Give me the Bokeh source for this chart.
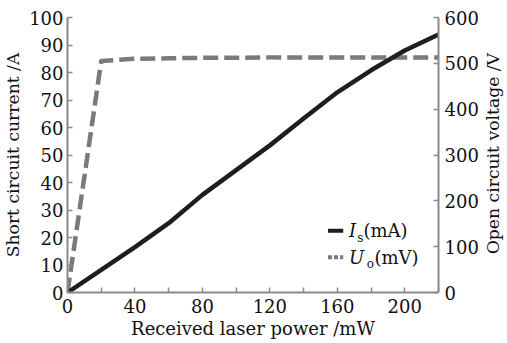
from bokeh.plotting import figure
from bokeh.models import Range1d, LinearAxis, FixedTicker, Label
from bokeh.embed import file_html
from bokeh.resources import INLINE
import math

# ---- data ----
power_mw = [0, 20, 40, 60, 80, 100, 120, 140, 160, 180, 200, 220]
is_ma = [0, 8.2, 16.5, 25.2, 35.5, 44.5, 53.5, 63.3, 72.8, 80.8, 88.0, 93.8]
uo_power = [0, 20, 40, 60, 80, 100, 120, 140, 160, 180, 200, 220]
uo_mv = [0, 505, 510, 511, 512, 512, 513, 513, 513, 513, 513, 513]

x_major = [0, 40, 80, 120, 160, 200]
x_minor = [20, 60, 100, 140, 180, 220]
y_ticks = [0, 10, 20, 30, 40, 50, 60, 70, 80, 90, 100]
y2_ticks = [0, 100, 200, 300, 400, 500, 600]

FONT = "DejaVu Serif"
AX_COL = "#8a8a8a"
TXT_COL = "#111111"
FS = "18px"
FS_Y = "17.2px"

p = figure(width=507, height=343, output_backend="svg", toolbar_location=None,
           x_range=Range1d(0, 220), y_range=Range1d(0, 100),
           min_border_left=65, min_border_right=69, min_border_top=17,
           min_border_bottom=51)
p.outline_line_color = None
p.xgrid.visible = False
p.ygrid.visible = False
p.background_fill_color = "white"
p.border_fill_color = "white"

p.extra_y_ranges = {"v": Range1d(0, 600)}
ax2 = LinearAxis(y_range_name="v")
p.add_layout(ax2, "right")

def style(ax, label):
    ax.axis_label = label
    ax.axis_line_color = AX_COL
    ax.axis_line_width = 2
    ax.major_tick_line_color = AX_COL
    ax.minor_tick_line_color = AX_COL
    ax.major_tick_line_width = 1.5
    ax.minor_tick_line_width = 1.5
    ax.major_tick_in = 5
    ax.major_tick_out = 0
    ax.minor_tick_in = 5
    ax.minor_tick_out = 0
    ax.major_label_text_font = FONT
    ax.major_label_text_font_size = FS
    ax.major_label_text_color = TXT_COL
    ax.axis_label_text_font = FONT
    ax.axis_label_text_font_size = FS
    ax.axis_label_text_font_style = "normal"
    ax.axis_label_text_color = TXT_COL
    ax.major_label_standoff = 4
    ax.axis_label_standoff = 2

xa = p.xaxis[0]
style(xa, "Received laser power /mW")
xa.ticker = FixedTicker(ticks=x_major, minor_ticks=x_minor)
xa.major_label_standoff = 6
xa.axis_label_standoff = 2

ya = p.yaxis[0]
style(ya, "Short circuit current /A")
ya.ticker = FixedTicker(ticks=y_ticks)
ya.axis_label_text_font_size = FS_Y
ya.axis_label_standoff = 3

style(ax2, None)
ax2.ticker = FixedTicker(ticks=y2_ticks)
ax2.major_label_standoff = 6

# right axis title, reading bottom-to-top like the left one (placed in the right panel)
p.add_layout(Label(x=252.5, y=50.5, text="Open circuit voltage /V", angle=math.pi / 2,
                   text_font=FONT, text_font_size=FS_Y, text_color=TXT_COL,
                   text_align="center", text_baseline="middle"), "right")

p.line(uo_power, uo_mv, y_range_name="v", line_color="#7a7a7a", line_width=4.5,
       line_dash="15 6", line_join="round")
p.line(power_mw, is_ma, line_color="#1e1e1e", line_width=4.5, line_join="round")

# ---- manual legend (subscripts) ----
leg_x0, leg_x1 = 154.5, 163.5
leg_y1, leg_y2 = 22.5, 12.8
p.line([leg_x0, leg_x1], [leg_y1, leg_y1], line_color="#1e1e1e", line_width=4)
p.line([leg_x0, leg_x1], [leg_y2, leg_y2], line_color="#7a7a7a", line_width=4,
       line_dash="4 2")

def lab(x, y, t, style="normal", size=FS, base="middle"):
    p.add_layout(Label(x=x, y=y, text=t, text_font=FONT, text_font_size=size,
                       text_font_style=style, text_color=TXT_COL,
                       text_baseline=base, text_align="left"))

lab(167.0, leg_y1, "I", "italic")
lab(171.8, leg_y1 - 2.6, "s", size="12px")
lab(175.5, leg_y1, "(mA)")
lab(167.0, leg_y2, "U", "italic")
lab(177.5, leg_y2 - 2.6, "o", size="12px")
lab(182.0, leg_y2, "(mV)")

open("out.html", "w").write(file_html(p, INLINE))
